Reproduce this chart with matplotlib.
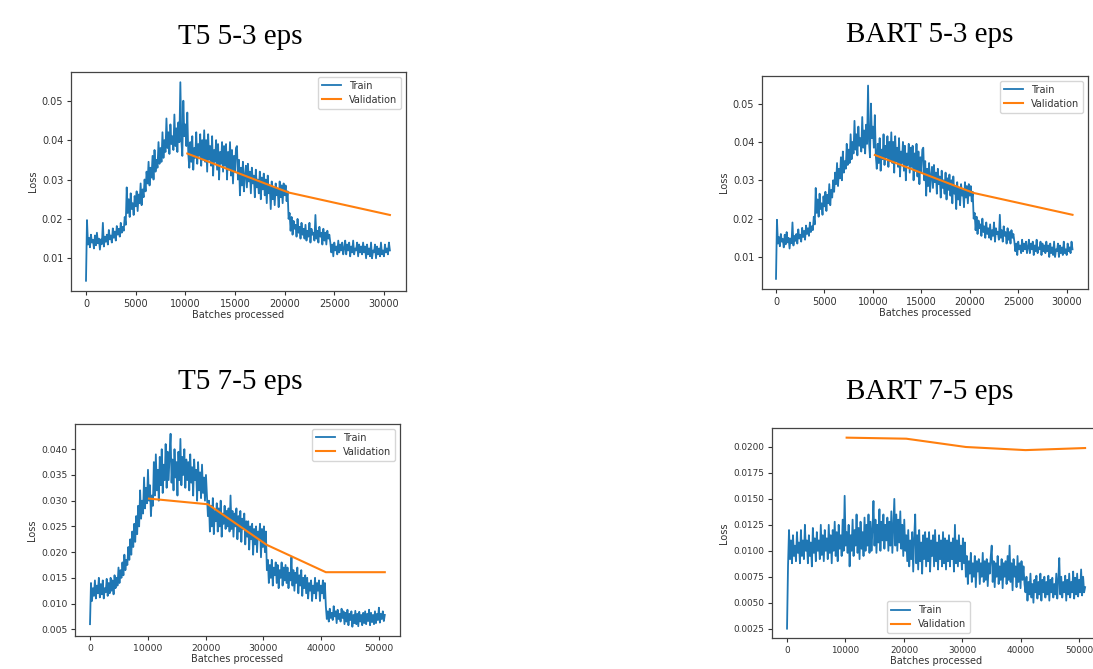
import numpy as np
import matplotlib
matplotlib.use("Agg")
import matplotlib.pyplot as plt

# ---------------- data ----------------
titles = ["T5 5-3 eps", "BART 5-3 eps", "T5 7-5 eps", "BART 7-5 eps"]

# 5-3 runs: train loss sampled every 100 batches (0 .. 30600)
step_53 = 100
train_53 = [
    0.0043, 0.0197, 0.0135, 0.0152, 0.0128, 0.0160, 0.0140, 0.0147, 0.0125, 0.0158, 0.0133, 0.0165, 0.0138, 0.0150, 0.0122, 0.0148, 0.0136, 0.0190, 0.0130, 0.0155,
    0.0142, 0.0160, 0.0135, 0.0172, 0.0148, 0.0158, 0.0140, 0.0176, 0.0152, 0.0168, 0.0145, 0.0182, 0.0160, 0.0175, 0.0155, 0.0190, 0.0165, 0.0180, 0.0170, 0.0205,
    0.0185, 0.0280, 0.0215, 0.0250, 0.0205, 0.0265, 0.0225, 0.0240, 0.0210, 0.0258, 0.0232, 0.0270, 0.0220, 0.0262, 0.0240, 0.0290, 0.0235, 0.0275, 0.0255, 0.0300,
    0.0270, 0.0320, 0.0290, 0.0345, 0.0285, 0.0330, 0.0305, 0.0360, 0.0300, 0.0375, 0.0320, 0.0350, 0.0330, 0.0395, 0.0340, 0.0380, 0.0345, 0.0420, 0.0355, 0.0400,
    0.0370, 0.0455, 0.0380, 0.0420, 0.0365, 0.0440, 0.0390, 0.0410, 0.0375, 0.0465, 0.0385, 0.0430, 0.0370, 0.0445, 0.0395, 0.0547, 0.0400, 0.0360, 0.0500, 0.0410,
    0.0440, 0.0385, 0.0470, 0.0365, 0.0330, 0.0395, 0.0345, 0.0410, 0.0325, 0.0380, 0.0355, 0.0420, 0.0340, 0.0390, 0.0360, 0.0415, 0.0335, 0.0400, 0.0350, 0.0425,
    0.0345, 0.0400, 0.0320, 0.0415, 0.0350, 0.0385, 0.0335, 0.0410, 0.0310, 0.0375, 0.0345, 0.0400, 0.0325, 0.0390, 0.0300, 0.0370, 0.0340, 0.0395, 0.0320, 0.0385,
    0.0335, 0.0390, 0.0300, 0.0370, 0.0325, 0.0395, 0.0310, 0.0375, 0.0290, 0.0360, 0.0320, 0.0380, 0.0385, 0.0300, 0.0350, 0.0260, 0.0330, 0.0285, 0.0345, 0.0270,
    0.0310, 0.0335, 0.0280, 0.0340, 0.0295, 0.0320, 0.0265, 0.0330, 0.0290, 0.0310, 0.0255, 0.0325, 0.0280, 0.0300, 0.0265, 0.0320, 0.0250, 0.0305, 0.0275, 0.0315,
    0.0260, 0.0300, 0.0240, 0.0310, 0.0265, 0.0285, 0.0225, 0.0295, 0.0250, 0.0280, 0.0235, 0.0290, 0.0260, 0.0275, 0.0230, 0.0295, 0.0255, 0.0285, 0.0240, 0.0290,
    0.0260, 0.0285, 0.0245, 0.0270, 0.0200, 0.0215, 0.0170, 0.0205, 0.0160, 0.0195, 0.0175, 0.0185, 0.0155, 0.0200, 0.0165, 0.0180, 0.0150, 0.0190, 0.0160, 0.0175,
    0.0150, 0.0185, 0.0145, 0.0170, 0.0155, 0.0190, 0.0140, 0.0175, 0.0160, 0.0165, 0.0145, 0.0210, 0.0150, 0.0170, 0.0140, 0.0180, 0.0155, 0.0165, 0.0135, 0.0175,
    0.0145, 0.0165, 0.0135, 0.0170, 0.0150, 0.0160, 0.0140, 0.0115, 0.0135, 0.0105, 0.0140, 0.0120, 0.0130, 0.0110, 0.0145, 0.0115, 0.0135, 0.0120, 0.0140, 0.0110,
    0.0125, 0.0145, 0.0110, 0.0135, 0.0120, 0.0140, 0.0105, 0.0130, 0.0115, 0.0145, 0.0110, 0.0125, 0.0120, 0.0140, 0.0105, 0.0135, 0.0115, 0.0130, 0.0110, 0.0140,
    0.0115, 0.0130, 0.0100, 0.0135, 0.0110, 0.0125, 0.0105, 0.0140, 0.0100, 0.0120, 0.0115, 0.0135, 0.0100, 0.0130, 0.0110, 0.0125, 0.0105, 0.0140, 0.0110, 0.0120,
    0.0105, 0.0135, 0.0115, 0.0125, 0.0110, 0.0140, 0.0120,
]
val_53_x = [10200, 20400, 30600]
val_53 = [0.0366, 0.0267, 0.0210]

# 7-5 runs: train loss sampled every 170 batches (0 .. 51000)
step_75 = 170
train_t5_75 = [
    0.0060, 0.0140, 0.0105, 0.0130, 0.0115, 0.0145, 0.0110, 0.0135, 0.0120, 0.0150, 0.0112, 0.0138, 0.0118, 0.0145, 0.0110, 0.0130, 0.0122, 0.0148, 0.0115, 0.0140,
    0.0120, 0.0150, 0.0125, 0.0145, 0.0118, 0.0155, 0.0130, 0.0150, 0.0135, 0.0170, 0.0140, 0.0165, 0.0150, 0.0180, 0.0155, 0.0195, 0.0165, 0.0185, 0.0175, 0.0210,
    0.0185, 0.0225, 0.0195, 0.0240, 0.0210, 0.0255, 0.0220, 0.0270, 0.0235, 0.0290, 0.0250, 0.0320, 0.0265, 0.0300, 0.0275, 0.0345, 0.0285, 0.0325, 0.0295, 0.0360,
    0.0300, 0.0330, 0.0270, 0.0310, 0.0290, 0.0375, 0.0310, 0.0390, 0.0320, 0.0360, 0.0300, 0.0385, 0.0330, 0.0400, 0.0315, 0.0370, 0.0340, 0.0410, 0.0325, 0.0395,
    0.0340, 0.0390, 0.0430, 0.0335, 0.0380, 0.0320, 0.0400, 0.0345, 0.0375, 0.0310, 0.0395, 0.0340, 0.0420, 0.0330, 0.0385, 0.0350, 0.0400, 0.0325, 0.0380, 0.0340,
    0.0375, 0.0320, 0.0390, 0.0335, 0.0365, 0.0310, 0.0380, 0.0340, 0.0360, 0.0300, 0.0375, 0.0320, 0.0355, 0.0305, 0.0370, 0.0315, 0.0345, 0.0300, 0.0350, 0.0310,
    0.0270, 0.0300, 0.0240, 0.0290, 0.0250, 0.0305, 0.0235, 0.0280, 0.0260, 0.0295, 0.0240, 0.0285, 0.0250, 0.0300, 0.0230, 0.0275, 0.0255, 0.0290, 0.0245, 0.0280,
    0.0250, 0.0285, 0.0240, 0.0310, 0.0245, 0.0280, 0.0230, 0.0275, 0.0250, 0.0285, 0.0225, 0.0270, 0.0240, 0.0280, 0.0220, 0.0265, 0.0245, 0.0275, 0.0215, 0.0260,
    0.0230, 0.0260, 0.0205, 0.0250, 0.0225, 0.0255, 0.0195, 0.0245, 0.0215, 0.0250, 0.0200, 0.0240, 0.0225, 0.0255, 0.0190, 0.0245, 0.0210, 0.0250, 0.0200, 0.0240,
    0.0165, 0.0185, 0.0140, 0.0175, 0.0150, 0.0185, 0.0135, 0.0170, 0.0155, 0.0180, 0.0140, 0.0175, 0.0130, 0.0165, 0.0150, 0.0180, 0.0135, 0.0170, 0.0145, 0.0175,
    0.0140, 0.0170, 0.0130, 0.0160, 0.0145, 0.0190, 0.0135, 0.0165, 0.0125, 0.0160, 0.0140, 0.0170, 0.0120, 0.0155, 0.0135, 0.0165, 0.0115, 0.0150, 0.0130, 0.0155,
    0.0120, 0.0150, 0.0110, 0.0140, 0.0125, 0.0145, 0.0105, 0.0135, 0.0120, 0.0150, 0.0110, 0.0140, 0.0125, 0.0145, 0.0105, 0.0135, 0.0120, 0.0145, 0.0110, 0.0140,
    0.0095, 0.0070, 0.0085, 0.0065, 0.0090, 0.0072, 0.0082, 0.0068, 0.0095, 0.0075, 0.0085, 0.0062, 0.0088, 0.0070, 0.0080, 0.0065, 0.0090, 0.0072, 0.0085, 0.0060,
    0.0082, 0.0065, 0.0088, 0.0058, 0.0080, 0.0068, 0.0085, 0.0055, 0.0078, 0.0062, 0.0086, 0.0060, 0.0080, 0.0056, 0.0084, 0.0065, 0.0078, 0.0058, 0.0082, 0.0062,
    0.0085, 0.0060, 0.0080, 0.0066, 0.0088, 0.0058, 0.0082, 0.0064, 0.0078, 0.0060, 0.0085, 0.0062, 0.0080, 0.0068, 0.0092, 0.0063, 0.0080, 0.0070, 0.0085, 0.0066,
    0.0078,
]
val_75_x = [10200, 20400, 30600, 40800, 51000]
val_t5_75 = [0.0304, 0.0293, 0.0214, 0.0161, 0.0161]

train_bart_75 = [
    0.0025, 0.0085, 0.0120, 0.0092, 0.0110, 0.0088, 0.0115, 0.0095, 0.0105, 0.0090, 0.0118, 0.0098, 0.0108, 0.0088, 0.0120, 0.0095, 0.0110, 0.0092, 0.0125, 0.0100,
    0.0110, 0.0088, 0.0115, 0.0095, 0.0108, 0.0085, 0.0122, 0.0098, 0.0112, 0.0090, 0.0118, 0.0100, 0.0110, 0.0092, 0.0125, 0.0096, 0.0115, 0.0090, 0.0120, 0.0100,
    0.0112, 0.0092, 0.0125, 0.0098, 0.0115, 0.0088, 0.0120, 0.0100, 0.0128, 0.0095, 0.0118, 0.0090, 0.0125, 0.0102, 0.0115, 0.0095, 0.0130, 0.0100, 0.0153, 0.0105,
    0.0118, 0.0098, 0.0125, 0.0085, 0.0115, 0.0100, 0.0130, 0.0095, 0.0120, 0.0105, 0.0135, 0.0098, 0.0122, 0.0092, 0.0128, 0.0102, 0.0118, 0.0095, 0.0132, 0.0100,
    0.0125, 0.0105, 0.0135, 0.0098, 0.0128, 0.0100, 0.0120, 0.0148, 0.0105, 0.0130, 0.0098, 0.0125, 0.0108, 0.0140, 0.0100, 0.0128, 0.0110, 0.0135, 0.0102, 0.0125,
    0.0110, 0.0132, 0.0100, 0.0128, 0.0105, 0.0138, 0.0098, 0.0125, 0.0150, 0.0105, 0.0135, 0.0100, 0.0130, 0.0108, 0.0138, 0.0102, 0.0125, 0.0095, 0.0130, 0.0100,
    0.0115, 0.0090, 0.0120, 0.0085, 0.0110, 0.0092, 0.0118, 0.0080, 0.0112, 0.0135, 0.0088, 0.0115, 0.0082, 0.0120, 0.0090, 0.0108, 0.0078, 0.0115, 0.0092, 0.0118,
    0.0085, 0.0112, 0.0090, 0.0118, 0.0080, 0.0110, 0.0095, 0.0115, 0.0085, 0.0120, 0.0090, 0.0108, 0.0082, 0.0115, 0.0092, 0.0110, 0.0085, 0.0118, 0.0088, 0.0112,
    0.0082, 0.0110, 0.0090, 0.0115, 0.0085, 0.0108, 0.0092, 0.0112, 0.0080, 0.0125, 0.0088, 0.0110, 0.0085, 0.0115, 0.0090, 0.0105, 0.0082, 0.0112, 0.0088, 0.0108,
    0.0075, 0.0095, 0.0068, 0.0090, 0.0078, 0.0098, 0.0070, 0.0088, 0.0075, 0.0095, 0.0065, 0.0090, 0.0080, 0.0092, 0.0068, 0.0088, 0.0075, 0.0098, 0.0070, 0.0090,
    0.0072, 0.0092, 0.0066, 0.0088, 0.0078, 0.0094, 0.0105, 0.0070, 0.0090, 0.0065, 0.0088, 0.0075, 0.0095, 0.0068, 0.0085, 0.0072, 0.0092, 0.0064, 0.0088, 0.0075,
    0.0090, 0.0068, 0.0095, 0.0072, 0.0105, 0.0070, 0.0088, 0.0062, 0.0092, 0.0075, 0.0085, 0.0065, 0.0095, 0.0070, 0.0088, 0.0064, 0.0090, 0.0072, 0.0085, 0.0068,
    0.0060, 0.0075, 0.0052, 0.0070, 0.0058, 0.0078, 0.0055, 0.0068, 0.0050, 0.0072, 0.0060, 0.0076, 0.0054, 0.0070, 0.0058, 0.0078, 0.0052, 0.0072, 0.0060, 0.0075,
    0.0055, 0.0070, 0.0058, 0.0076, 0.0052, 0.0072, 0.0060, 0.0074, 0.0055, 0.0068, 0.0058, 0.0078, 0.0054, 0.0072, 0.0093, 0.0058, 0.0075, 0.0055, 0.0070, 0.0060,
    0.0076, 0.0052, 0.0072, 0.0058, 0.0078, 0.0055, 0.0070, 0.0060, 0.0080, 0.0054, 0.0074, 0.0058, 0.0078, 0.0056, 0.0072, 0.0060, 0.0082, 0.0057, 0.0075, 0.0060,
    0.0065,
]
val_bart_75 = [0.0209, 0.0208, 0.0200, 0.0197, 0.0199]

xticks_53 = [0, 5000, 10000, 15000, 20000, 25000, 30000]
yticks_53 = [0.01, 0.02, 0.03, 0.04, 0.05]
xticks_75 = [0, 10000, 20000, 30000, 40000, 50000]
yticks_t5_75 = [0.005, 0.010, 0.015, 0.020, 0.025, 0.030, 0.035, 0.040]
yticks_bart_75 = [0.0025, 0.0050, 0.0075, 0.0100, 0.0125, 0.0150, 0.0175, 0.0200]

# ---------------- figure ----------------
W, H = 1093, 669
fig = plt.figure(figsize=(W / 100, H / 100), dpi=100)
fig.patch.set_facecolor("white")

BLUE = "#1f77b4"
ORANGE = "#ff7f0e"
TXT = "#333333"


def rect(left, right, top, bottom):
    return [left / W, (H - bottom) / H, (right - left) / W, (bottom - top) / H]


panels = [
    dict(rect=rect(71, 406, 72, 291), train=train_53, step=step_53, vx=val_53_x, vy=val_53,
         xt=xticks_53, yt=yticks_53, yfmt="{:.2f}", xlim=(-1510, 32220), ylim=(0.0017, 0.0573),
         leg=dict(loc="upper right"), fs=7.0, title_xy=(240, 37)),
    dict(rect=rect(762, 1088, 76, 289), train=train_53, step=step_53, vx=val_53_x, vy=val_53,
         xt=xticks_53, yt=yticks_53, yfmt="{:.2f}", xlim=(-1445, 32200), ylim=(0.00165, 0.0572),
         leg=dict(loc="upper right"), fs=7.0, title_xy=(930, 35)),
    dict(rect=rect(75, 400, 424, 636), train=train_t5_75, step=step_75, vx=val_75_x, vy=val_t5_75,
         xt=xticks_75, yt=yticks_t5_75, yfmt="{:.3f}", xlim=(-2595, 53630), ylim=(0.0037, 0.0449),
         leg=dict(loc="upper right"), fs=6.7, title_xy=(240, 382)),
    dict(rect=rect(772, 1100, 428, 638), train=train_bart_75, step=step_75, vx=val_75_x, vy=val_bart_75,
         xt=xticks_75, yt=yticks_bart_75, yfmt="{:.4f}", xlim=(-2570, 53550), ylim=(0.0016, 0.02183),
         leg=dict(loc="lower center", bbox_to_anchor=(0.477, 0.0)), fs=6.4, title_xy=(930, 392)),
]

for title, p in zip(titles, panels):
    ax = fig.add_axes(p["rect"])
    tx = np.arange(len(p["train"])) * p["step"]
    ax.plot(tx, p["train"], color=BLUE, lw=1.3, label="Train")
    ax.plot(p["vx"], p["vy"], color=ORANGE, lw=1.5, label="Validation")
    ax.set_xlim(*p["xlim"])
    ax.set_ylim(*p["ylim"])
    ax.set_xticks(p["xt"])
    ax.set_xticklabels([str(v) for v in p["xt"]])
    ax.set_yticks(p["yt"])
    ax.set_yticklabels([p["yfmt"].format(v) for v in p["yt"]])
    ax.tick_params(labelsize=p["fs"], colors=TXT, length=3, width=0.8, pad=2.5)
    for s in ax.spines.values():
        s.set_color("#444444")
        s.set_linewidth(0.9)
    ax.set_xlabel("Batches processed", fontsize=7.0, color=TXT, labelpad=1)
    ax.set_ylabel("Loss", fontsize=7.0, color=TXT, labelpad=3)
    leg = ax.legend(fontsize=7.0, frameon=True, handlelength=2.0,
                    borderpad=0.4, labelspacing=0.4, **p["leg"])
    for t in leg.get_texts():
        t.set_color(TXT)
    fig.text(p["title_xy"][0] / W, 1 - p["title_xy"][1] / H, title,
             fontsize=21, family="Liberation Serif", ha="center", va="center", color="black")

fig.savefig("out.png", dpi=100, facecolor="white")
